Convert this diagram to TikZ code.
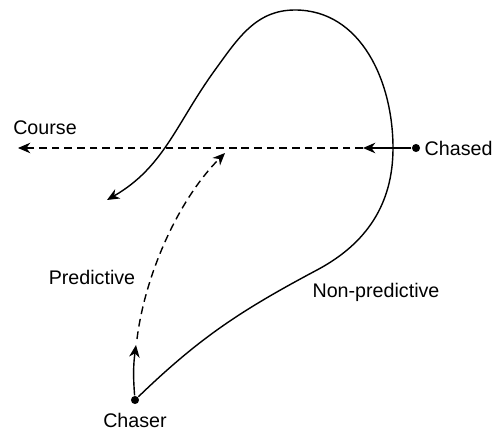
\documentclass[tikz,border=0pt]{standalone}
\usepackage{fontspec}
\setmainfont{Liberation Sans}
\usetikzlibrary{arrows.meta}

\tikzset{
    dot/.style={circle, fill, inner sep=0pt, minimum size=4.6pt},
    lbl/.style={inner sep=0pt, font=\fontsize{11.2}{13}\selectfont},
    arr/.style={-{Stealth[length=7pt, width=6pt, inset=2.2pt]}},
    dashline/.style={dash pattern=on 4.4pt off 2.8pt}
}

\begin{document}
\begin{tikzpicture}[x=0.02cm, y=0.02cm, line width=0.8pt]
    \useasboundingbox (0,0) rectangle (500,440);

    \node (chaser) at (135,40) [dot] {};
    \node (chased) at (416,292) [dot] {};
    \coordinate (course) at (18,292);
    \coordinate (aim) at (363,292);
    \coordinate (pstart) at (136,95);
    \coordinate (pend) at (225,287);
    \coordinate (nend) at (107,240);

    \node (chaserlbl) at (135,20) [lbl] {Chaser};
    \node (chasedlbl) at (424,292) [lbl, anchor=west] {Chased};
    \node (courselbl) at (45,312) [lbl] {Course};
    \node (predlbl) at (92,163) [lbl] {Predictive};
    \node (nonpredlbl) at (376,148) [lbl] {Non-predictive};

    \draw[arr] (chased) -- (aim);
    \draw[arr, dashline] (aim) -- (course);

    \draw[arr] (chaser) to[bend left=6] (pstart);
    \draw[arr, dashline] (137,101) .. controls (145,165) and (178,240) .. (pend);

    \draw[arr] (chaser) to[out=44, in=208] (317,170) to[out=28, in=-90] (393,292)
        to[out=90, in=0] (295,430) to[out=180, in=54] (215,370)
        to[out=234, in=30] (nend);

\end{tikzpicture}
\end{document}
